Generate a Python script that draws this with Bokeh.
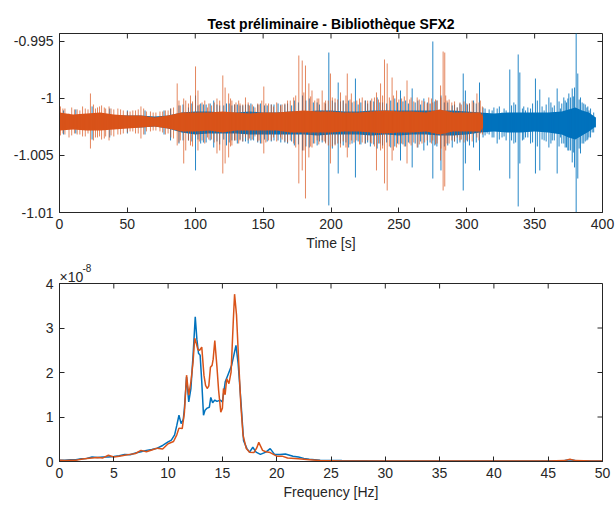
import math
from bokeh.plotting import figure
from bokeh.models import Range1d, FixedTicker, ColumnDataSource, Title
from bokeh.layouts import column
from bokeh.embed import file_html
from bokeh.resources import INLINE

BLUE = "#0072BD"
ORANGE = "#D95319"
AX = "#262626"
FONT = "Liberation Sans"

# ---------------- time signal (top) ----------------
# dense noise band of each record
blue_band_t = [0, 10, 20, 30, 40, 50, 60, 70, 80, 90, 100, 110, 120, 130, 140, 150, 160, 170, 180, 190,
               200, 210, 220, 230, 240, 250, 260, 270, 280, 290, 300, 310, 320, 330, 340, 350, 360, 370,
               375, 380, 385, 390, 395]
blue_band_hi = [-1.0014, -1.00149, -1.0014, -1.0014, -1.00149, -1.00149, -1.00149, -1.00158, -1.00149, -1.00123,
                -1.00114, -1.00114, -1.00123, -1.00123, -1.00114, -1.00123, -1.00123, -1.00114, -1.00114, -1.00105,
                -1.00105, -1.00114, -1.00114, -1.00105, -1.00105, -1.00105, -1.00105, -1.00105, -1.00105, -1.00105,
                -1.00114, -1.00123, -1.00132, -1.00123, -1.00123, -1.00123, -1.00123, -1.00114,
                -1.00096, -1.00079, -1.00105, -1.00123, -1.00167]
blue_band_lo = [-1.00263, -1.00254, -1.00263, -1.00263, -1.00254, -1.00254, -1.00254, -1.00246, -1.00263, -1.00298,
                -1.00316, -1.00307, -1.00307, -1.00307, -1.00316, -1.00316, -1.00316, -1.00316, -1.00316, -1.00324,
                -1.00316, -1.00316, -1.00316, -1.00324, -1.00316, -1.00324, -1.00316, -1.00316, -1.00324, -1.00324,
                -1.00316, -1.00298, -1.00289, -1.00298, -1.00298, -1.00289, -1.00298, -1.00316,
                -1.00342, -1.0036, -1.00324, -1.00289, -1.00246]

orange_band_t = [0, 10, 20, 30, 40, 50, 60, 70, 80, 90, 100, 110, 120, 130, 140, 150, 160, 170, 180, 190,
                 200, 210, 220, 230, 240, 250, 260, 270, 280, 290, 300, 310, 312]
orange_band_hi = [-1.00123, -1.0014, -1.00132, -1.00123, -1.0014, -1.00149, -1.00149, -1.00167, -1.00149, -1.00123,
                  -1.00123, -1.00123, -1.00114, -1.00123, -1.00132, -1.00123, -1.00123, -1.00114, -1.00105, -1.00114,
                  -1.00114, -1.00123, -1.00123, -1.00114, -1.00105, -1.00114, -1.00114, -1.00123, -1.00096, -1.00123,
                  -1.00123, -1.00123, -1.00158]
orange_band_lo = [-1.00281, -1.00272, -1.00281, -1.00281, -1.00272, -1.00263, -1.00254, -1.00246, -1.00263, -1.00289,
                  -1.00289, -1.00281, -1.00298, -1.00281, -1.00281, -1.00281, -1.00281, -1.00298, -1.00298, -1.00298,
                  -1.00298, -1.00289, -1.00289, -1.00298, -1.00307, -1.00298, -1.00298, -1.00289, -1.00316, -1.00289,
                  -1.00289, -1.00289, -1.00254]

# larger excursions (time, peak above, trough below)
blue_spike_t = [3, 12, 24, 37, 50, 63, 77, 81.8, 88, 95, 100.2, 104, 108, 113.6, 118, 123, 127, 131, 135, 139,
                143, 148, 153, 158, 163, 168, 173, 179, 184, 189.8, 193.5, 198.4, 201, 205.3, 209, 213, 218, 222,
                225.4, 229, 234, 238, 244, 247, 251.2, 255, 259.8, 264, 268.4, 271, 275, 278, 281, 286, 289.3,
                293, 297.4, 299, 302, 305, 309.4, 312, 315, 318.7, 322.4, 326, 329, 331.7, 334.7, 337.9, 339.1,
                341, 343.3, 347, 350.6, 353.8, 357, 360.5, 363, 366.6, 369, 371.5, 373.5, 375.2, 377.7, 379.4,
                380.6, 381.8, 383.8, 386.2, 388.5, 390, 392.4, 394.8]
blue_spike_hi = [-1.00105, -1.00096, -1.0007, -1.00088, -1.00105, -1.00105, -1.00105, -1.00088, -1.00061, -1.00079,
                 -0.99974, -1.00044, -1.00053, -1.00018, -1.00061, -1.00044, -1.00061, -1.00053, -1.00061, -1.00053,
                 -1.0007, -1.00044, -1.00061, -1.00053, -1.00053, -1.00044, -1.00018, -0.99974, -1.0, -1.00035,
                 -1.00105, -0.99597, -1.00018, -0.9986, -1.00018, -1.00018, -0.99825, -1.00035,
                 -1.00018, -1.00018, -0.99991, -1.00035, -1.00018, -1.0, -0.9993, -1.00018, -0.99912, -1.00018,
                 -1.0, -1.00035, -0.9950, -1.00018, -0.99974, -1.00035, -1.00061,
                 -1.00079, -0.99781, -0.9993, -1.00044, -1.00018, -0.9986, -1.00079, -1.00132, -1.00105, -1.00088,
                 -1.00123, -1.00105, -0.99746, -1.00035, -0.99614, -0.99772,
                 -1.00088, -1.00105, -1.00088, -0.99825, -0.99921, -1.00105, -0.99991, -1.00079, -0.99912, -1.00088,
                 -0.99991, -1.00035, -0.99956, -0.99912, -0.99904,
                 -0.99316, -0.99781, -0.99991, -1.00044, -1.00079, -1.00105, -1.00149, -1.00167]
blue_spike_lo = [-1.00316, -1.00307, -1.0036, -1.00342, -1.00307, -1.00316, -1.00316, -1.00368, -1.00395, -1.00368,
                 -1.00631, -1.00395, -1.00386, -1.0043, -1.00403, -1.00412, -1.00368, -1.00395, -1.00377, -1.00395,
                 -1.00368, -1.00395, -1.00377, -1.00368, -1.00386, -1.00395, -1.00412, -1.00456, -1.0043, -1.00412,
                 -1.00386, -1.00938, -1.00439, -1.00658, -1.00412, -1.0043, -1.00693, -1.00403,
                 -1.00395, -1.00421, -1.00439, -1.00412, -1.0043, -1.00421, -1.00544, -1.00421, -1.00605, -1.0043,
                 -1.00456, -1.00412, -1.00702, -1.00421, -1.00631, -1.00412, -1.0043,
                 -1.00395, -1.00807, -1.0057, -1.00412, -1.0043, -1.00631, -1.00342, -1.00307, -1.00342, -1.00395,
                 -1.00342, -1.00368, -1.00702, -1.00395, -1.00947, -1.0057,
                 -1.00368, -1.00342, -1.00395, -1.00658, -1.00631, -1.00368, -1.0043, -1.00368, -1.00658, -1.00342,
                 -1.00395, -1.0043, -1.00456, -1.00561, -1.00605,
                 -1.01114, -1.00702, -1.00482, -1.00395, -1.00368, -1.00342, -1.00298, -1.00254]
# smaller excursions of the blue record
blue_small_t = [91, 97.5, 102, 106, 111, 116, 121, 125, 129, 133, 137, 141, 146, 151, 156, 161, 166, 171, 176,
                181.5, 187, 191.5, 196, 203, 207, 211, 215.5, 220, 227, 231.5, 236, 241, 249, 253, 257, 262, 266,
                273, 276.5, 283.5, 291, 295, 300.5, 307,
                313.5, 316.5, 320, 324, 327.5, 333, 336, 342, 345, 348.5, 352, 355.5, 358.5, 362, 364.5, 368,
                370, 372.5, 374.5, 376.5, 378.5, 382.8, 385, 387.3, 389.2, 391.2, 393.5]
blue_small_hi = [-1.00053, -1.00044, -1.00061, -1.00053, -1.00044, -1.00053, -1.00061, -1.00044, -1.00053, -1.00061,
                 -1.00053, -1.00044, -1.00053, -1.00061, -1.00053, -1.00044, -1.00053, -1.00061, -1.00035,
                 -1.00018, -1.00035, -1.00053, -1.00044, -1.00035, -1.00026, -1.00044, -1.00035, -1.00053, -1.00044,
                 -1.00026, -1.00035, -1.00044, -1.00035, -1.00026, -1.00044, -1.00035, -1.00053,
                 -1.00044, -1.00026, -1.00035, -1.00053, -1.00044, -1.00053, -1.00044,
                 -1.00088, -1.00096, -1.00079, -1.0007, -1.00088, -1.00061, -1.00053, -1.0007, -1.00079, -1.00044,
                 -1.00018, -1.0007, -1.00053, -1.00035, -1.00061, -1.00026,
                 -1.00044, -1.00018, -1.0, -0.99991, -0.99982, -1.00009, -1.00035, -1.00053, -1.0007, -1.00088,
                 -1.00123]
blue_small_lo = [-1.00368, -1.00377, -1.0036, -1.00386, -1.00368, -1.00377, -1.0036, -1.00386, -1.00368, -1.0036,
                 -1.00377, -1.00368, -1.00386, -1.0036, -1.00377, -1.00368, -1.00386, -1.00377, -1.00403,
                 -1.00421, -1.00395, -1.00377, -1.00386, -1.00403, -1.00395, -1.00386, -1.00395, -1.00377, -1.00386,
                 -1.00403, -1.00395, -1.00386, -1.00395, -1.00403, -1.00386, -1.00395, -1.00377,
                 -1.00386, -1.00412, -1.00421, -1.00377, -1.00386, -1.00377, -1.00386,
                 -1.00324, -1.00316, -1.00342, -1.0036, -1.00333, -1.00368, -1.00386, -1.0036, -1.00342, -1.00386,
                 -1.00421, -1.0036, -1.00377, -1.00395, -1.00368, -1.00421,
                 -1.00395, -1.0043, -1.00456, -1.00456, -1.00474, -1.00439, -1.00395, -1.00377, -1.0036, -1.00342,
                 -1.00298]

orange_spike_t = [0.7, 4, 7, 11, 15, 19, 22.8, 25, 28, 31, 34, 36.5, 40, 43, 47, 52, 56, 60, 64, 69, 74, 78, 82,
                  86.7, 89, 91.5, 93, 96.5, 100.2, 102, 105, 109, 112, 116, 118, 120.3, 122, 124.6, 127, 130, 133,
                  137, 140, 144, 147, 150.5, 154, 157.6, 162.8, 166, 170, 172.5, 176.3, 178.8, 181.2, 183.7, 186,
                  189.8, 193.5, 196, 199.6, 203, 207, 212, 215, 219, 223, 227, 230, 233.5, 236.5, 239.4, 241.4,
                  245, 248.3, 252, 256, 259, 263.5, 267, 270.9, 272, 275, 278.2, 280.7, 282.6, 283.8, 285.5, 289,
                  293, 296, 300, 305.2, 307.5, 310, 311.5]
orange_spike_hi = [-1.0007, -1.00088, -1.00132, -1.00096, -1.00105, -1.00088, -0.99956, -1.00053, -1.00079, -1.00061,
                   -1.00088, -1.0007, -1.00096, -1.00088, -1.00105, -1.00114, -1.00105, -1.0007, -1.00114, -1.00123,
                   -1.00114, -1.00105, -1.00088,
                   -0.99868, -1.00061, -1.0, -1.00018, -0.99974, -0.99719, -0.9993, -1.00035, -1.00079, -1.00061,
                   -1.0, -1.00018, -0.99798, -0.99904, -0.99956, -1.00018, -1.00035, -1.00044,
                   -0.99991, -1.00061, -1.00079, -1.00053, -0.99895, -1.00044, -1.0007, -1.00061, -1.00044, -1.00018,
                   -0.99991, -0.99623, -0.99667, -0.99711, -0.99868, -0.9993,
                   -1.0, -0.9993, -1.00018, -0.99781, -1.0, -0.99947, -0.99781, -0.99956, -1.00018, -0.99991, -1.00018,
                   -1.0, -0.99947, -0.99868, -0.99658, -0.99693,
                   -0.99816, -0.9993, -1.0, -0.99842, -0.99991, -0.99991, -1.00018, -1.00044, -0.99991, -1.00035,
                   -1.00018, -0.99886, -0.99588, -0.99597, -1.00018, -1.00035,
                   -1.00079, -1.00053, -1.00044, -1.00035, -0.99956, -1.00018, -1.0007]
orange_spike_lo = [-1.00324, -1.00316, -1.00342, -1.00307, -1.00316, -1.00333, -1.00439, -1.00368, -1.00342, -1.0036,
                   -1.00333, -1.00368, -1.00333, -1.00316, -1.00307, -1.00289, -1.00307, -1.00351, -1.00289, -1.00281,
                   -1.00289, -1.00316, -1.00342,
                   -1.00412, -1.00368, -1.0057, -1.00456, -1.00412, -1.00324, -1.00456, -1.00368, -1.00342, -1.0036,
                   -1.00482, -1.00456, -1.00658, -1.0057, -1.00517, -1.00412, -1.00368, -1.00368,
                   -1.00342, -1.00351, -1.00333, -1.00368, -1.00482, -1.00368, -1.00342, -1.00342, -1.00377, -1.00368,
                   -1.00395, -1.00745, -1.00631, -1.00877, -1.00517, -1.0043,
                   -1.00368, -1.00368, -1.00395, -1.0057, -1.00412, -1.0043, -1.00517, -1.00368, -1.00368, -1.00386,
                   -1.00368, -1.00395, -1.00631, -1.00456, -1.00745, -1.00807,
                   -1.00544, -1.0043, -1.00395, -1.0057, -1.00412, -1.0043, -1.00395, -1.00368, -1.00281, -1.00368,
                   -1.00395, -1.00544, -1.00807, -1.00772, -1.00395, -1.00368,
                   -1.00342, -1.0036, -1.00368, -1.00307, -1.00342, -1.00307, -1.00316]
# smaller excursions of the orange record
orange_small_t = [2.5, 9, 13, 17, 21, 26.5, 29.5, 33, 38, 45, 50, 54, 58, 62, 67, 71, 76, 80, 84, 88, 95, 98, 103,
                  107, 110, 114, 126, 129, 132, 135, 139, 142, 146, 149, 152, 156, 160, 164, 168, 174, 180, 185,
                  188, 191, 195, 198, 201, 205, 209, 211, 214, 217, 221, 225, 229, 232, 235, 238, 243, 246, 250,
                  254, 258, 261, 265, 269, 274, 277, 281, 284.5, 287, 291, 295, 298, 302, 304, 309]
orange_small_hi = [-1.00088, -1.00079, -1.00096, -1.0007, -1.00096, -1.00088, -1.0007, -1.00079, -1.00088, -1.00096,
                   -1.00114, -1.00105, -1.00096, -1.00088, -1.00114, -1.00123, -1.00114, -1.00105, -1.00079, -1.00018,
                   -1.00044, -1.00026, -1.00053, -1.00018, -1.00044, -1.00035, -1.0, -1.00053, -1.00018, -1.00053,
                   -1.00035, -1.00053, -1.00044, -1.00018, -1.00044, -1.00053, -1.00035, -1.00053, -1.00018, -0.99974,
                   -0.99947, -0.99982, -1.00018, -1.0, -1.00035, -1.00018, -0.99991, -1.00009, -1.00018, -0.99974,
                   -1.00009, -1.00026, -1.0, -1.00018, -1.00026, -0.99991, -1.00009, -0.99974, -0.99991, -0.99974,
                   -1.00009, -0.99982, -1.00009, -1.00026, -1.00009, -1.00026, -1.0, -1.00009, -0.99991, -0.99974,
                   -1.00009, -1.00026, -1.00035, -1.00026, -1.00044, -1.00018, -1.00035]
orange_small_lo = [-1.00307, -1.00324, -1.00316, -1.00333, -1.00307, -1.00342, -1.00333, -1.00351, -1.00324, -1.00316,
                   -1.00298, -1.00289, -1.00307, -1.00316, -1.00289, -1.00281, -1.00298, -1.00307, -1.00351, -1.00386,
                   -1.00368, -1.00421, -1.00377, -1.00395, -1.0036, -1.00386, -1.00421, -1.00368, -1.00395, -1.00377,
                   -1.00368, -1.0036, -1.00377, -1.00395, -1.00386, -1.00368, -1.00377, -1.0036, -1.00386, -1.0043,
                   -1.00456, -1.00421, -1.00395, -1.00403, -1.00377, -1.00412, -1.00421, -1.00395, -1.00377, -1.0043,
                   -1.00403, -1.00386, -1.00403, -1.00395, -1.00386, -1.00421, -1.00395, -1.00439, -1.00421, -1.00456,
                   -1.00403, -1.00421, -1.00395, -1.00386, -1.00403, -1.00386, -1.00395, -1.00403, -1.00439, -1.00456,
                   -1.00395, -1.00377, -1.00368, -1.00386, -1.0036, -1.00377, -1.00368]

time_ticks = [0, 50, 100, 150, 200, 250, 300, 350, 400]
level_ticks = [-1.01, -1.005, -1.0, -0.995]
level_tick_labels = ["-1.01", "-1.005", "-1", "-0.995"]

# ---------------- spectrum (bottom), in units of 1e-8 ----------------
freq_blue = [0, 0.5, 1, 1.5, 2, 2.5, 3, 3.5, 4, 4.5, 5, 5.5, 6, 6.5, 7, 7.5, 8, 8.5, 9, 9.5, 10, 10.3, 10.6,
             10.8, 11.0, 11.2, 11.4, 11.5, 11.7, 11.9, 12.1, 12.3, 12.5, 12.65, 12.8, 12.95, 13.1, 13.26, 13.4,
             13.6, 13.8, 13.93, 14.1, 14.3, 14.5, 14.8, 15.0, 15.26, 15.5, 15.85, 16.25, 16.45, 16.7, 16.95,
             17.26, 17.5, 17.8, 18.1, 18.5, 19.0, 19.4, 19.8, 20.3, 20.8, 21.5, 22, 22.5, 23, 24, 26, 30, 35,
             40, 45, 46.5, 47, 47.5, 49, 50]
psd_blue = [0.03, 0.03, 0.04, 0.04, 0.06, 0.07, 0.1, 0.09, 0.1, 0.1, 0.11, 0.13, 0.16, 0.15, 0.19, 0.22, 0.25,
            0.27, 0.3, 0.36, 0.44, 0.48, 0.6, 0.81, 1.04, 0.85, 0.95, 1.19, 1.9, 1.34, 1.64, 2.39, 3.25, 2.75,
            2.43, 2.39, 1.79, 1.04, 1.15, 1.2, 1.22, 1.44, 1.32, 1.38, 1.35, 1.38, 1.34, 1.79, 1.94, 2.16,
            2.61, 2.2, 1.37, 0.47, 0.29, 0.21, 0.32, 0.21, 0.16, 0.21, 0.29, 0.16, 0.16, 0.17, 0.12, 0.1,
            0.07, 0.05, 0.03, 0.02, 0.01, 0.01, 0.01, 0.01, 0.02, 0.04, 0.02, 0.01, 0.01]
freq_orange = [0, 0.5, 1, 1.5, 2, 2.5, 3, 3.5, 4, 4.5, 5, 5.5, 6, 6.5, 7, 7.5, 8, 8.5, 9, 9.5, 10, 10.5, 10.8,
               11.0, 11.3, 11.5, 11.7, 11.9, 12.1, 12.3, 12.45, 12.6, 12.75, 12.9, 13.1, 13.3, 13.45, 13.6,
               13.75, 13.9, 14.05, 14.15, 14.3, 14.5, 14.65, 14.85, 15.0, 15.1, 15.25, 15.4, 15.6, 15.8, 16.0,
               16.12, 16.3, 16.5, 16.7, 16.9, 17.2, 17.5, 17.9, 18.15, 18.35, 18.7, 19.0, 19.4, 20.0, 20.5,
               21, 22, 23, 24, 26, 30, 35, 40, 45, 46.5, 47, 47.5, 49, 50]
psd_orange = [0.03, 0.02, 0.03, 0.03, 0.05, 0.07, 0.08, 0.09, 0.08, 0.14, 0.1, 0.12, 0.14, 0.16, 0.18, 0.25,
              0.22, 0.26, 0.3, 0.28, 0.4, 0.45, 0.6, 0.75, 0.74, 1.1, 1.94, 1.49, 1.79, 2.24, 2.77, 2.65, 2.51,
              2.5, 2.57, 1.94, 1.71, 1.64, 1.7, 2.12, 2.16, 2.3, 2.72, 2.12, 1.6, 1.11, 1.2, 1.64, 1.5, 1.86,
              1.75, 2.01, 3.14, 3.76, 3.29, 2.24, 1.26, 0.59, 0.29, 0.21, 0.2, 0.3, 0.43, 0.25, 0.22, 0.2,
              0.12, 0.12, 0.08, 0.06, 0.04, 0.02, 0.01, 0.01, 0.01, 0.01, 0.01, 0.02, 0.05, 0.02, 0.01, 0.01]
freq_ticks = [0, 5, 10, 15, 20, 25, 30, 35, 40, 45, 50]
psd_ticks = [0, 1, 2, 3, 4]

TITLE = "Test préliminaire - Bibliothèque SFX2"
PSD_MULT_BASE = "×10"
PSD_MULT_EXP = "-8"


def style_axis(ax):
    ax.axis_line_color = AX
    ax.axis_line_width = 1
    ax.major_tick_line_color = AX
    ax.major_tick_in = 5
    ax.major_tick_out = 0
    ax.minor_tick_line_color = None
    ax.major_label_text_font = FONT
    ax.major_label_text_color = AX
    ax.major_label_text_font_size = "14px"
    ax.major_label_standoff = 6
    ax.axis_label_text_font = FONT
    ax.axis_label_text_font_style = "normal"
    ax.axis_label_text_color = AX
    ax.axis_label_text_font_size = "14px"
    ax.axis_label_standoff = 3


def make_fig(height, xr, yr, top, bottom, xt, yt):
    p = figure(width=616, height=height, x_range=Range1d(*xr), y_range=Range1d(*yr),
               output_backend="svg", toolbar_location=None,
               min_border_left=59, min_border_right=14, min_border_top=top, min_border_bottom=bottom)
    p.grid.visible = False
    p.outline_line_color = AX
    p.outline_line_alpha = 1
    xa = p.below[0]
    ya = p.left[0]
    xa.ticker = FixedTicker(ticks=xt)
    ya.ticker = FixedTicker(ticks=yt)
    style_axis(xa)
    style_axis(ya)
    # mirrored inward ticks on the top and right edges of the box
    p.ray(x=xt, y=[yr[1]] * len(xt), length=5, length_units="screen", angle=-math.pi / 2,
          line_color=AX, line_width=1)
    p.ray(x=[xr[1]] * len(yt), y=yt, length=5, length_units="screen", angle=math.pi,
          line_color=AX, line_width=1)
    return p, xa, ya


# ---------- top ----------
p1, x1, y1 = make_fig(255, (0, 400), (-1.01, -0.9943), 33, 43, time_ticks, level_ticks)
y1.major_label_overrides = dict(zip(level_ticks, level_tick_labels))
x1.axis_label = "Time [s]"
p1.title.text = TITLE
p1.title.align = "center"
p1.title.text_font = FONT
p1.title.text_font_style = "bold"
p1.title.text_font_size = "14px"
p1.title.text_color = "#000000"
p1.title.standoff = 4

bb = ColumnDataSource(dict(t=blue_band_t, hi=blue_band_hi, lo=blue_band_lo))
ob = ColumnDataSource(dict(t=orange_band_t, hi=orange_band_hi, lo=orange_band_lo))
bs = ColumnDataSource(dict(t=blue_spike_t + blue_small_t, hi=blue_spike_hi + blue_small_hi,
                           lo=blue_spike_lo + blue_small_lo))
os_ = ColumnDataSource(dict(t=orange_spike_t + orange_small_t, hi=orange_spike_hi + orange_small_hi,
                            lo=orange_spike_lo + orange_small_lo))

p1.varea(x="t", y1="lo", y2="hi", source=bb, fill_color=BLUE)
p1.segment(x0="t", y0="lo", x1="t", y1="hi", source=bs, line_color=BLUE, line_width=1, line_alpha=0.85)
p1.varea(x="t", y1="lo", y2="hi", source=ob, fill_color=ORANGE)
p1.segment(x0="t", y0="lo", x1="t", y1="hi", source=os_, line_color=ORANGE, line_width=1, line_alpha=0.7)

# ---------- bottom ----------
p2, x2, y2 = make_fig(251, (0, 50), (0, 4), 28, 45, freq_ticks, psd_ticks)
x2.axis_label = "Frequency [Hz]"
p2.line(freq_blue, psd_blue, line_color=BLUE, line_width=1.5)
p2.line(freq_orange, psd_orange, line_color=ORANGE, line_width=1.5)
p2.title.text = ""
p2.add_layout(Title(text=PSD_MULT_BASE, align="left", text_font=FONT, text_font_style="normal",
                    text_font_size="14px", text_color=AX, standoff=-3), "above")
p2.add_layout(Title(text=PSD_MULT_EXP, align="left", offset=23, text_font=FONT, text_font_style="normal",
                    text_font_size="10px", text_color=AX, standoff=-6), "above")

layout = column(p1, p2, spacing=0)
open("out.html", "w").write(file_html(layout, INLINE))
